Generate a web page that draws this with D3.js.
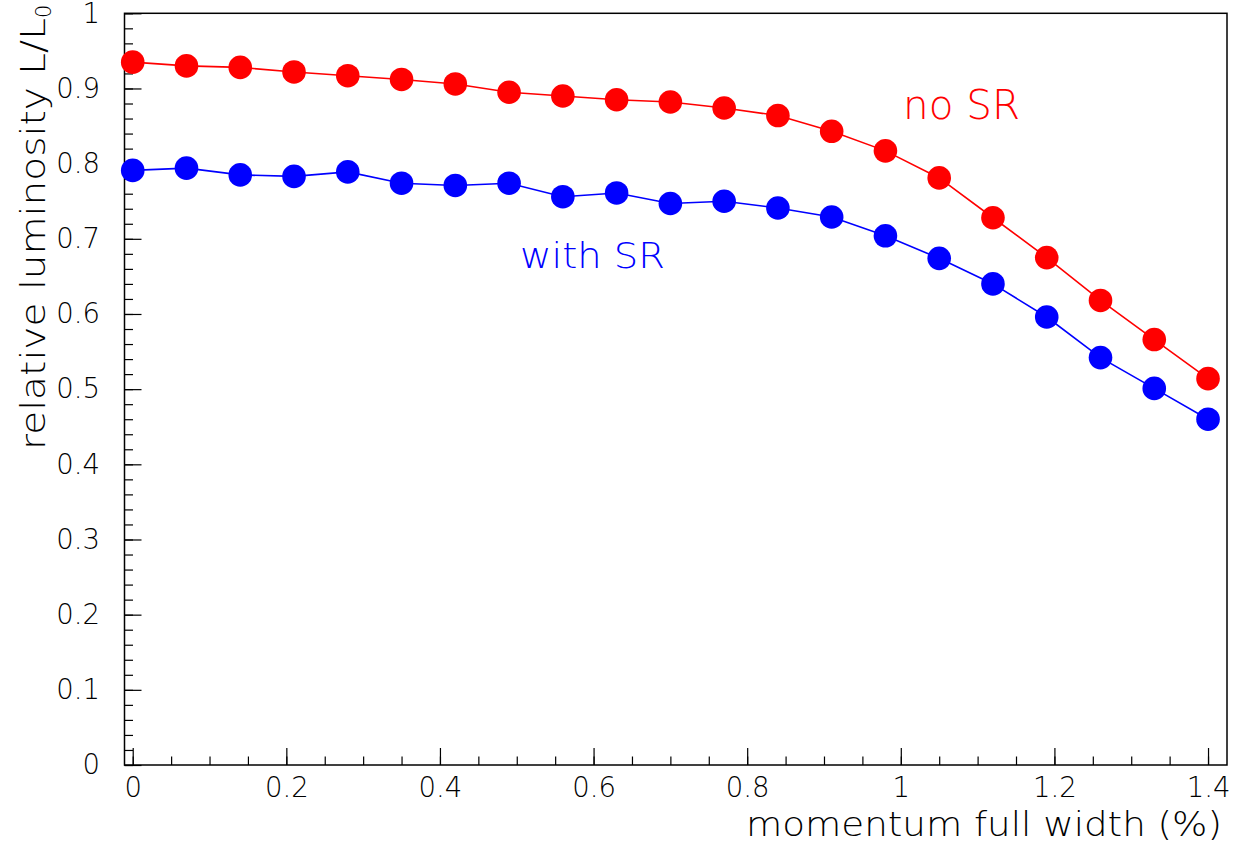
<!DOCTYPE html>
<html>
<head>
<meta charset="utf-8">
<script src="https://cdn.jsdelivr.net/npm/d3@7"></script>
<style>
  body { margin: 0; background: #fff; }
  text { font-family: "DejaVu Sans", sans-serif; font-weight: 200; }
</style>
</head>
<body>
<div id="chart"></div>
<script>
// momentum full width (%) sampled every 0.07
var momentum = [0, 0.07, 0.14, 0.21, 0.28, 0.35, 0.42, 0.49, 0.56, 0.63, 0.70,
                0.77, 0.84, 0.91, 0.98, 1.05, 1.12, 1.19, 1.26, 1.33, 1.40];
var noSR = [0.935, 0.930, 0.928, 0.922, 0.917, 0.912, 0.906, 0.895, 0.890, 0.885, 0.882,
            0.874, 0.864, 0.843, 0.817, 0.781, 0.728, 0.675, 0.618, 0.566, 0.514];
var withSR = [0.791, 0.794, 0.785, 0.783, 0.789, 0.774, 0.771, 0.774, 0.756, 0.761, 0.747,
              0.750, 0.741, 0.729, 0.704, 0.674, 0.640, 0.596, 0.542, 0.501, 0.460];
var xTicks = [0, 0.2, 0.4, 0.6, 0.8, 1, 1.2, 1.4];
var yTicks = [0, 0.1, 0.2, 0.3, 0.4, 0.5, 0.6, 0.7, 0.8, 0.9, 1];

var width = 1235, height = 847;
var padL = 124.5, padR = 1227, padT = 13.3, padB = 765;

var svg = d3.select("#chart").append("svg")
  .attr("width", width).attr("height", height);

var x = d3.scaleLinear().domain([-0.0107, 1.4247]).range([padL, padR]);
var y = d3.scaleLinear().domain([0, 1]).range([padB, padT]);

// frame
svg.append("rect")
  .attr("x", padL).attr("y", padT)
  .attr("width", padR - padL).attr("height", padB - padT)
  .attr("fill", "none").attr("stroke", "#000").attr("stroke-width", 1.5);

// minor ticks
var xMinor = d3.range(0, 1.4001, 0.05).map(function (d) { return +d.toFixed(2); });
var yMinor = d3.range(0, 1.0001, 0.02).map(function (d) { return +d.toFixed(2); });

svg.append("g").attr("transform", "translate(0," + padB + ")")
  .call(d3.axisBottom(x).tickValues(xMinor).tickSize(-8.5).tickFormat(""))
  .call(function (g) { g.select(".domain").remove(); });
svg.append("g").attr("transform", "translate(" + padL + ",0)")
  .call(d3.axisLeft(y).tickValues(yMinor).tickSize(-8.5).tickFormat(""))
  .call(function (g) { g.select(".domain").remove(); });

// major ticks + labels
var fmt = function (d) { return String(+d.toFixed(1)); };
svg.append("g").attr("transform", "translate(0," + padB + ")")
  .call(d3.axisBottom(x).tickValues(xTicks).tickSize(-17).tickPadding(12).tickFormat(fmt))
  .call(function (g) {
    g.select(".domain").remove();
    g.selectAll("text").attr("font-size", 27.5).attr("fill", "#000");
  });
svg.append("g").attr("transform", "translate(" + padL + ",0)")
  .call(d3.axisLeft(y).tickValues(yTicks).tickSize(-17).tickPadding(24.5).tickFormat(fmt))
  .call(function (g) {
    g.select(".domain").remove();
    g.selectAll("text").attr("font-size", 27.5).attr("fill", "#000");
  });
svg.selectAll(".tick line").attr("stroke", "#000").attr("stroke-width", 1.2);

// series
var series = [
  { values: noSR, color: "#ff0000" },
  { values: withSR, color: "#0000ff" }
];
var line = d3.line()
  .x(function (d, i) { return x(momentum[i]); })
  .y(function (d) { return y(d); });

series.forEach(function (s) {
  svg.append("path").datum(s.values)
    .attr("d", line).attr("fill", "none")
    .attr("stroke", s.color).attr("stroke-width", 1.6);
  svg.append("g").selectAll("circle").data(s.values).enter().append("circle")
    .attr("cx", function (d, i) { return x(momentum[i]); })
    .attr("cy", function (d) { return y(d); })
    .attr("r", 11.8)
    .attr("fill", s.color);
});

// in-plot labels
svg.append("text").attr("x", 903).attr("y", 119)
  .attr("font-size", 40).attr("fill", "#ff0000")
  .attr("textLength", 117).attr("lengthAdjust", "spacingAndGlyphs").text("no SR");
svg.append("text").attr("x", 520).attr("y", 268)
  .attr("font-size", 36).attr("fill", "#0000ff")
  .attr("textLength", 145).attr("lengthAdjust", "spacingAndGlyphs").text("with SR");

// axis titles
svg.append("text").attr("x", 746).attr("y", 836)
  .attr("font-size", 34).attr("fill", "#000")
  .attr("textLength", 476).attr("lengthAdjust", "spacingAndGlyphs")
  .text("momentum full width (%)");

var yt = svg.append("text")
  .attr("transform", "translate(45,450) rotate(-90)")
  .attr("font-size", 34).attr("fill", "#000");
yt.append("tspan").attr("textLength", 432).attr("lengthAdjust", "spacingAndGlyphs")
  .text("relative luminosity L/L");
yt.append("tspan").attr("font-size", 21).attr("dy", 6).text("0");
</script>
</body>
</html>
